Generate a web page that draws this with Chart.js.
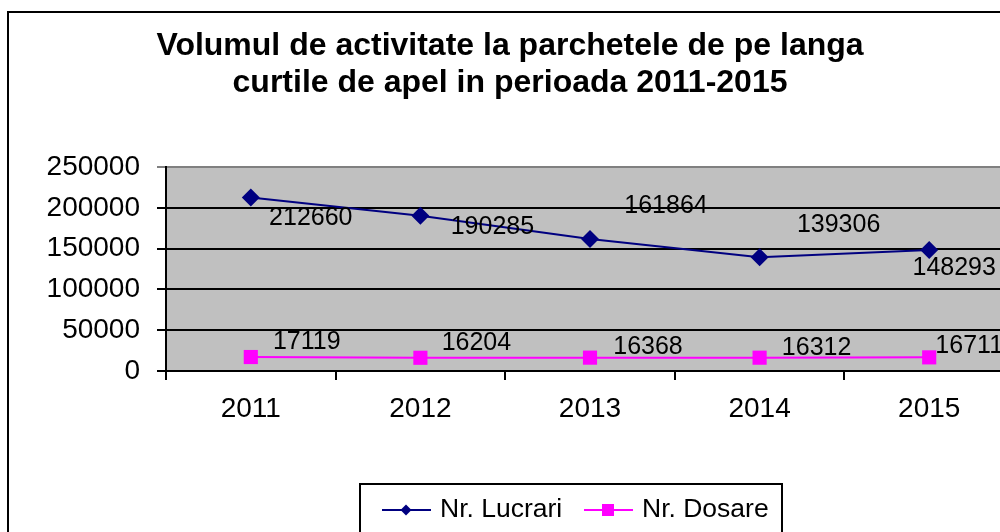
<!DOCTYPE html>
<html>
<head>
<meta charset="utf-8">
<title>Volumul de activitate</title>
<script src="https://cdn.jsdelivr.net/npm/chart.js@4"></script>
<style>
  html, body { margin: 0; padding: 0; background: #fff; overflow: hidden; }
  #wrap { width: 1040px; height: 532px; position: relative; }
</style>
</head>
<body>
<div id="wrap"><canvas id="activityChart"></canvas></div>
<script>
// ======================================
// Data
// ======================================

const years = ["2011", "2012", "2013", "2014", "2015"];
const lucrari = [212660, 190285, 161864, 139306, 148293];
const dosare = [17119, 16204, 16368, 16312, 16711];
const yTicks = [0, 50000, 100000, 150000, 200000, 250000];

const titleLines = [
  "Volumul de activitate la parchetele de pe langa",
  "curtile de apel in perioada 2011-2015",
];

// value labels sit beside their points, not on them
const lucrariLabelShift = [[60, 21], [72, 11], [76, -33], [79, -32], [25, 18]];
const dosareLabelShift = [[56, -15], [56, -15], [58, -11], [57, -10], [40, -11]];

const FONT = "'Liberation Sans', Arial, sans-serif";

// ======================================
// Plugins
// ======================================

const backdropPlugin = {
  id: "backdrop",
  beforeDraw(chart) {
    const { ctx, chartArea } = chart;
    ctx.save();
    ctx.fillStyle = "#ffffff";
    ctx.fillRect(0, 0, chart.width, chart.height);
    ctx.fillStyle = "#c0c0c0";
    ctx.fillRect(chartArea.left, chartArea.top, chartArea.right - chartArea.left, chartArea.bottom - chartArea.top);
    ctx.strokeStyle = "#000";
    ctx.lineWidth = 2;
    ctx.strokeRect(8, 12, 2000, 2000);
    ctx.restore();
  },
};

const valueLabelPlugin = {
  id: "valueLabels",
  afterDatasetsDraw(chart) {
    const { ctx } = chart;
    ctx.save();
    ctx.font = `25px ${FONT}`;
    ctx.fillStyle = "#000";
    ctx.textAlign = "center";
    ctx.textBaseline = "middle";
    chart.data.datasets.forEach((ds, i) => {
      const meta = chart.getDatasetMeta(i);
      meta.data.forEach((pt, j) => {
        const [dx, dy] = ds.labelShift[j];
        ctx.fillText(String(ds.data[j]), pt.x + dx, pt.y + dy);
      });
    });
    ctx.restore();
  },
};

const boxedLegendPlugin = {
  id: "boxedLegend",
  afterDraw(chart) {
    const { ctx } = chart;
    const items = [
      { x: 382, textX: 440 },
      { x: 584, textX: 642 },
    ];
    const y = 510;
    ctx.save();
    ctx.strokeStyle = "#000";
    ctx.lineWidth = 2;
    ctx.strokeRect(360, 484, 422, 100);

    chart.data.datasets.forEach((ds, i) => {
      const it = items[i];
      ctx.strokeStyle = ds.borderColor;
      ctx.lineWidth = 2;
      ctx.beginPath();
      ctx.moveTo(it.x, y);
      ctx.lineTo(it.x + 49, y);
      ctx.stroke();

      ctx.fillStyle = ds.pointBackgroundColor;
      const cx = it.x + 24;
      ctx.beginPath();
      if (ds.pointStyle === "rectRot") {
        ctx.moveTo(cx, y - 5.5);
        ctx.lineTo(cx + 5.5, y);
        ctx.lineTo(cx, y + 5.5);
        ctx.lineTo(cx - 5.5, y);
        ctx.closePath();
      } else {
        ctx.rect(cx - 6, y - 6, 12, 12);
      }
      ctx.fill();

      ctx.fillStyle = "#000";
      ctx.font = `26.5px ${FONT}`;
      ctx.textAlign = "left";
      ctx.textBaseline = "middle";
      ctx.fillText(ds.label, it.textX, y);
    });
    ctx.restore();
  },
};

// ======================================
// Chart
// ======================================

new Chart(document.getElementById("activityChart"), {
  type: "line",
  data: {
    labels: years,
    datasets: [
      {
        label: "Nr. Lucrari",
        data: lucrari,
        borderColor: "#000080",
        backgroundColor: "#000080",
        pointBackgroundColor: "#000080",
        pointBorderWidth: 0,
        borderWidth: 2,
        pointStyle: "rectRot",
        pointRadius: 9,
        tension: 0,
        labelShift: lucrariLabelShift,
      },
      {
        label: "Nr. Dosare",
        data: dosare,
        borderColor: "#ff00ff",
        backgroundColor: "#ff00ff",
        pointBackgroundColor: "#ff00ff",
        pointBorderWidth: 0,
        borderWidth: 2,
        pointStyle: "rect",
        pointRadius: 10,
        tension: 0,
        labelShift: dosareLabelShift,
      },
    ],
  },
  options: {
    responsive: true,
    maintainAspectRatio: false,
    animation: false,
    devicePixelRatio: 1,
    layout: { padding: { left: 6, right: 26, top: 0, bottom: 91 } },
    plugins: {
      legend: { display: false },
      tooltip: { enabled: false },
      title: {
        display: true,
        text: titleLines,
        color: "#000",
        font: { family: FONT, size: 32, weight: "bold", lineHeight: 1.156 },
        padding: { top: 28, bottom: 65 },
      },
    },
    scales: {
      x: {
        type: "category",
        offset: true,
        afterFit: (scale) => { scale.height = 70; },
        grid: {
          offset: true,
          drawOnChartArea: false,
          drawTicks: true,
          tickLength: 9,
          color: "#000",
          lineWidth: 2,
        },
        border: { display: true, color: "#000", width: 2 },
        ticks: { color: "#000", font: { family: FONT, size: 28 }, padding: 12 },
      },
      y: {
        min: 0,
        max: 250000,
        afterFit: (scale) => { scale.width = 160; },
        afterBuildTicks: (scale) => { scale.ticks = yTicks.map((v) => ({ value: v })); },
        grid: {
          color: (c) => (c.tick && c.tick.value === 250000 ? "#808080" : "#000"),
          lineWidth: 2,
          drawTicks: true,
          tickLength: 9,
        },
        border: { display: true, color: "#000", width: 2 },
        ticks: {
          color: "#000",
          font: { family: FONT, size: 28 },
          padding: 17,
          callback: (v) => String(v),
        },
      },
    },
  },
  plugins: [backdropPlugin, valueLabelPlugin, boxedLegendPlugin],
});
</script>
</body>
</html>
